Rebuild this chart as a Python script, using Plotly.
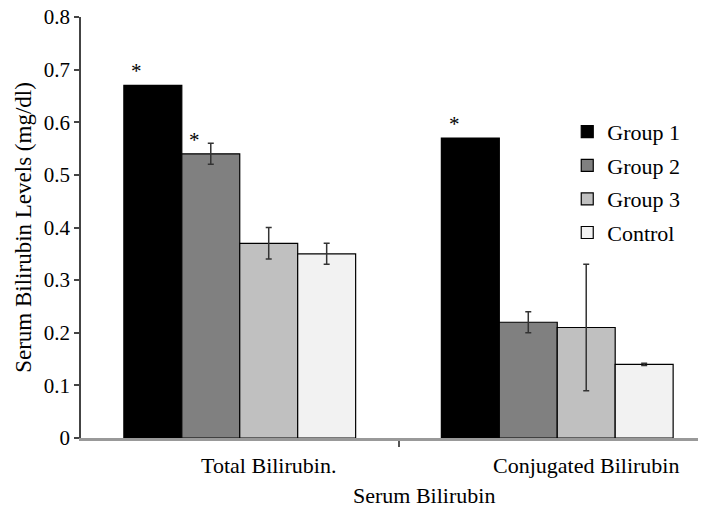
import plotly.graph_objects as go

categories = ["Total Bilirubin.", "Conjugated Bilirubin"]
groups = ["Group 1", "Group 2", "Group 3", "Control"]
values = {
    "Group 1": [0.67, 0.57],
    "Group 2": [0.54, 0.22],
    "Group 3": [0.37, 0.21],
    "Control": [0.35, 0.14],
}
errors = {
    "Group 1": [0.0, 0.0],
    "Group 2": [0.02, 0.02],
    "Group 3": [0.03, 0.12],
    "Control": [0.02, 0.002],
}
significant = {"Group 1": [True, True], "Group 2": [True, False],
               "Group 3": [False, False], "Control": [False, False]}
colors = {"Group 1": "#000000", "Group 2": "#808080",
          "Group 3": "#c0c0c0", "Control": "#f2f2f2"}
x_title = "Serum Bilirubin"
y_title = "Serum Bilirubin Levels (mg/dl)"
y_ticks = [0, 0.1, 0.2, 0.3, 0.4, 0.5, 0.6, 0.7, 0.8]
y_ticktext = ["0", "0.1", "0.2", "0.3", "0.4", "0.5", "0.6", "0.7", "0.8"]

FONT = "Liberation Serif"
xpos = list(range(len(categories)))
bargap = 0.27
ngroups = len(groups)
bw = (1 - bargap) / ngroups

fig = go.Figure()
for i, g in enumerate(groups):
    err = errors[g]
    fig.add_trace(go.Bar(
        name=g, x=xpos, y=values[g],
        marker=dict(color=colors[g], line=dict(color="#000000", width=1.2)),
        error_y=dict(type="data", array=err, visible=any(e > 0 for e in err),
                     color="#333333", thickness=1.5, width=3),
        legendgroup=g,
    ))

annotations = []
for i, g in enumerate(groups):
    for j, c in enumerate(xpos):
        if significant[g][j]:
            bx = c - (1 - bargap) / 2 + bw * (i + 0.5)
            annotations.append(dict(
                x=bx, y=values[g][j], xref="x", yref="y", text="*",
                showarrow=False, xanchor="center", yanchor="bottom",
                xshift=-16, yshift=0,
                font=dict(family=FONT, size=21, color="#000000")))

annotations.append(dict(
    x=0.549, y=0, xref="paper", yref="paper", text=x_title,
    showarrow=False, xanchor="center", yanchor="middle", yshift=-57,
    font=dict(family=FONT, size=22, color="#000000")))

fig.update_layout(
    width=706, height=516,
    margin=dict(l=73, r=8, t=9, b=86, autoexpand=False),
    paper_bgcolor="white", plot_bgcolor="white",
    barmode="group", bargap=bargap, bargroupgap=0,
    font=dict(family=FONT, size=21, color="#000000"),
    showlegend=True,
    legend=dict(x=0.778, y=0.777, xanchor="left", yanchor="top",
                font=dict(family=FONT, size=22, color="#000000"),
                tracegroupgap=2, bgcolor="rgba(0,0,0,0)"),
    annotations=annotations,
    xaxis=dict(
        range=[-0.5, 1.4685], tickmode="array", tickvals=xpos,
        ticktext=categories, ticks="", showline=True, linecolor="#999999",
        linewidth=2.5, showgrid=False, zeroline=False, automargin=False,
        ticklabelshift=29, ticklabelstandoff=6,
        tickfont=dict(family=FONT, size=22, color="#000000"),
        minor=dict(tickmode="array", tickvals=[0.5], ticks="outside",
                   ticklen=6, tickcolor="#555555", tickwidth=2),
    ),
    yaxis=dict(
        range=[0, 0.8], tickmode="array",
        tickvals=y_ticks, ticktext=y_ticktext,
        ticks="outside", ticklen=5, tickcolor="#444444", tickwidth=1.5,
        showline=True, linecolor="#444444", linewidth=1.5,
        showgrid=False, zeroline=False, automargin=False,
        ticklabeloverflow="allow",
        tickfont=dict(family=FONT, size=21, color="#000000"),
        title=dict(text=y_title, standoff=6,
                   font=dict(family=FONT, size=23, color="#000000")),
    ),
)

fig.write_html("out.html")
